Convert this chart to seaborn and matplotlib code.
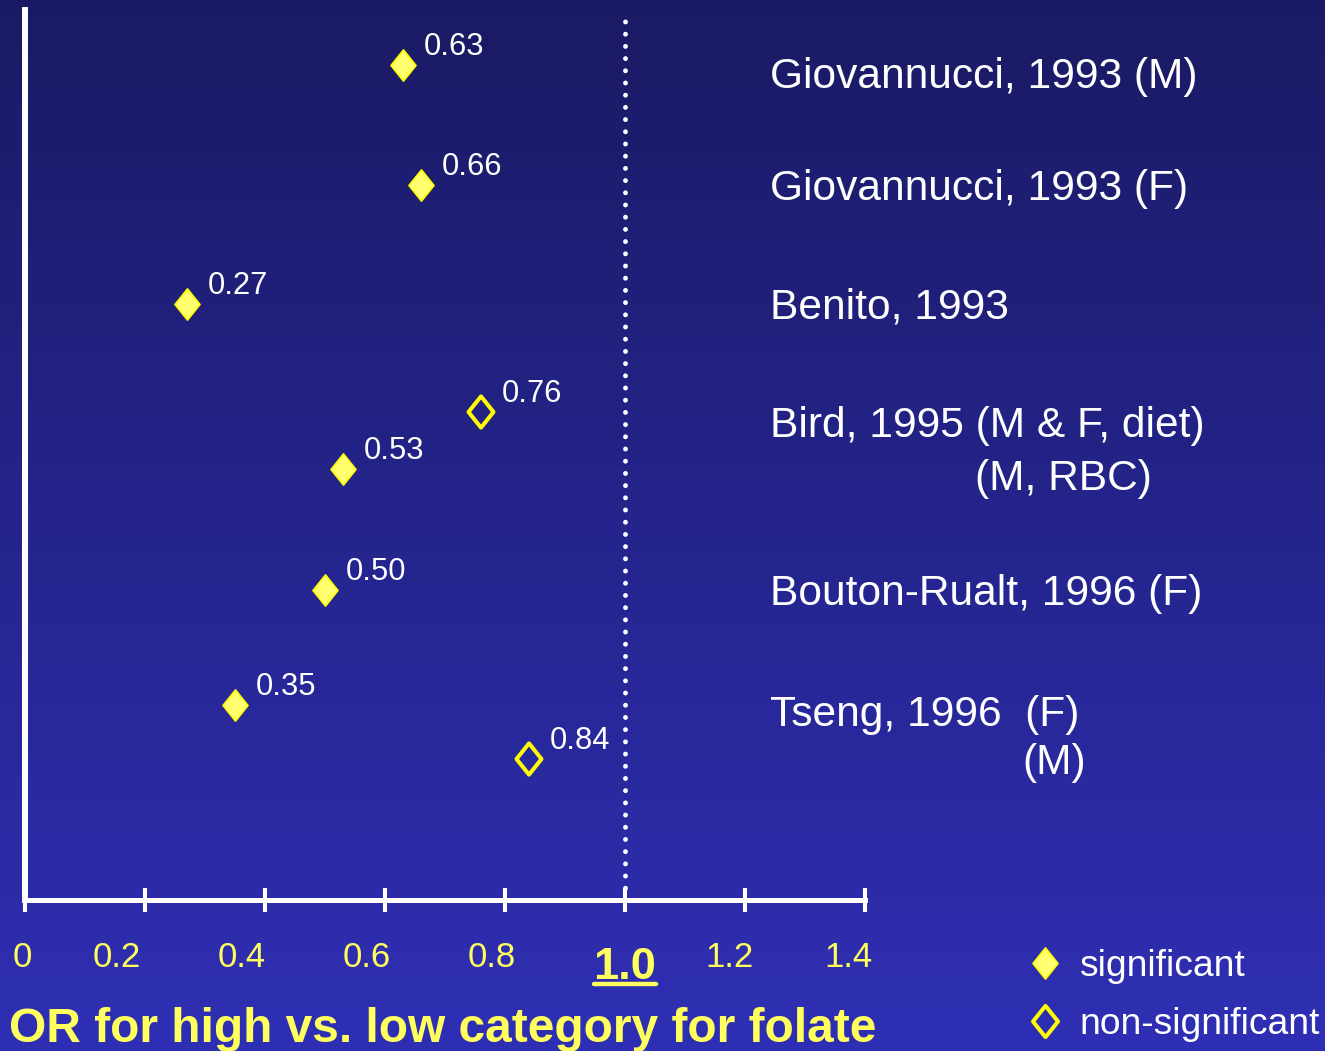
import numpy as np
import pandas as pd
import matplotlib
matplotlib.use("Agg")
import matplotlib.pyplot as plt
from matplotlib.path import Path
from matplotlib.lines import Line2D
from matplotlib.transforms import ScaledTranslation, blended_transform_factory
import seaborn as sns

# ---- data -------------------------------------------------------------
study_names = [
    "Giovannucci, 1993 (M)",
    "Giovannucci, 1993 (F)",
    "Benito, 1993",
    "Bird, 1995 (M & F, diet)",
    "Bouton-Rualt, 1996 (F)",
    "Tseng, 1996  (F)",
]
sub_labels = ["(M, RBC)", "(M)"]
odds_ratios = [0.63, 0.66, 0.27, 0.76, 0.53, 0.50, 0.35, 0.84]
significance = ["significant", "significant", "significant", "non-significant",
                "significant", "significant", "significant", "non-significant"]
tick_values = [0, 0.2, 0.4, 0.6, 0.8, 1.0, 1.2, 1.4]
tick_labels = ["0", "0.2", "0.4", "0.6", "0.8", "1.0", "1.2", "1.4"]
x_title = "OR for high vs. low category for folate"
legend_labels = ["significant", "non-significant"]

# ---- layout (vertical rows in units of 100 px from the top) ------------
point_rows = [0.65, 1.85, 3.04, 4.12, 4.69, 5.90, 7.05, 7.59]
study_rows = [0.88, 2.00, 3.19, 4.37, 6.05, 7.26]
sub_rows = [4.90, 7.74]
sub_x_px = [975, 1022]

W, H, DPI = 1325, 1051, 100
YELLOW = "#FFFF00"
TEXT_YELLOW = "#FFFF5E"
FILL_YELLOW = "#FFFF70"

sns.set_theme(style="white")
plt.rcParams["font.family"] = ["Liberation Sans", "DejaVu Sans"]

fig = plt.figure(figsize=(W / DPI, H / DPI), dpi=DPI)

# vertical gradient background
bg = fig.add_axes([0, 0, 1, 1], zorder=-10)
top_c = np.array([26, 26, 100]) / 255
bot_c = np.array([47, 47, 181]) / 255
t = np.linspace(0, 1, 256)[:, None]
grad = (top_c[None, :] * (1 - t) + bot_c[None, :] * t)[:, None, :]
bg.imshow(grad, aspect="auto", extent=[0, 1, 0, 1])
bg.set_axis_off()

ax = fig.add_axes([25 / W, (H - 900) / H, 840 / W, 890 / H])
ax.set_facecolor("none")

df = pd.DataFrame({"odds_ratio": odds_ratios, "row": point_rows,
                   "significance": significance})

diamond = Path([(0, 1), (0.8, 0), (0, -1), (-0.8, 0), (0, 1)],
               [Path.MOVETO, Path.LINETO, Path.LINETO, Path.LINETO, Path.CLOSEPOLY])
MS = 22.5

# reference line at OR = 1
ax.axvline(1.0, color="white", lw=3.5, linestyle=(0, (0.01, 2.5)),
           dash_capstyle="round", zorder=1)

sig = df[df["significance"] == "significant"]
nonsig = df[df["significance"] == "non-significant"]
sns.scatterplot(data=sig, x="odds_ratio", y="row", marker=diamond, s=MS ** 2,
                color=FILL_YELLOW, edgecolor=YELLOW, linewidth=1.2,
                legend=False, ax=ax, zorder=3)
sns.scatterplot(data=nonsig, x="odds_ratio", y="row", marker=diamond, s=MS ** 2,
                color=YELLOW, facecolor="none", edgecolor=YELLOW, linewidth=2.9,
                legend=False, ax=ax, zorder=3)

# value labels next to each marker
for v, r in zip(odds_ratios, point_rows):
    ax.annotate(f"{v:.2f}", (v, r), xytext=(15, 7), textcoords="offset points",
                color="white", fontsize=22.2, ha="left", va="baseline")

# study names on the right
lab_tr = blended_transform_factory(fig.transFigure, ax.transData)
for name, r in zip(study_names, study_rows):
    ax.text(770 / W, r, name, transform=lab_tr, color="white", fontsize=30.6,
            ha="left", va="baseline", clip_on=False)
for name, r, xp in zip(sub_labels, sub_rows, sub_x_px):
    ax.text(xp / W, r, name, transform=lab_tr, color="white", fontsize=30.6,
            ha="left", va="baseline", clip_on=False)

ax.set_xlim(0, 1.4)
ax.set_ylim(9.0, 0.1)
ax.set_yticks([])
ax.set_ylabel("")
ax.set_xlabel("")
ax.set_xticks(tick_values, tick_labels)
ax.tick_params(axis="x", bottom=True, direction="inout", length=17, width=2.9,
               color="white", labelsize=25, labelcolor=TEXT_YELLOW, pad=21)
for side in ["top", "right"]:
    ax.spines[side].set_visible(False)
ax.spines["left"].set_color("white")
ax.spines["left"].set_linewidth(4.3)
ax.spines["bottom"].set_color("white")
ax.spines["bottom"].set_linewidth(3.6)

# nudge tick labels (px) the way the slide had them
label_dx = [-3, -28, -23, -18, -13, 0, -15, -17]
label_dy = [0, 0, 0, 0, 0, -6, 0, 0]
ref_label = None
for lab, dx, dy, txt in zip(ax.get_xticklabels(), label_dx, label_dy, tick_labels):
    lab.set_transform(lab.get_transform() +
                      ScaledTranslation(dx / DPI, dy / DPI, fig.dpi_scale_trans))
    if txt == "1.0":
        lab.set_fontsize(32.6)
        lab.set_fontweight("bold")
        ref_label = lab

# axis title
fig.text(443 / W, 1 - 1042 / H, x_title, ha="center", va="baseline",
         fontsize=34.5, fontweight="bold", color=TEXT_YELLOW)

# legend
handles = [
    Line2D([], [], marker=diamond, markersize=MS, linestyle="none",
           markerfacecolor=FILL_YELLOW, markeredgecolor=YELLOW, markeredgewidth=1.2),
    Line2D([], [], marker=diamond, markersize=MS, linestyle="none",
           markerfacecolor="none", markeredgecolor=YELLOW, markeredgewidth=2.9),
]
fig.legend(handles, legend_labels, loc="upper left",
           bbox_to_anchor=(1026 / W, 1 - 949 / H), frameon=False,
           fontsize=26.8, labelcolor="white", handlelength=1.0,
           handletextpad=0.45, borderpad=0, borderaxespad=0, labelspacing=0.62)

# underline under the emphasised "1.0" tick label
fig.canvas.draw()
bb = ref_label.get_window_extent()
y_line = (bb.y0 + 4) / H
fig.add_artist(Line2D([bb.x0 / W, bb.x1 / W], [y_line, y_line],
                      transform=fig.transFigure, color=TEXT_YELLOW, lw=3.2))

fig.savefig("out.png", dpi=DPI)
